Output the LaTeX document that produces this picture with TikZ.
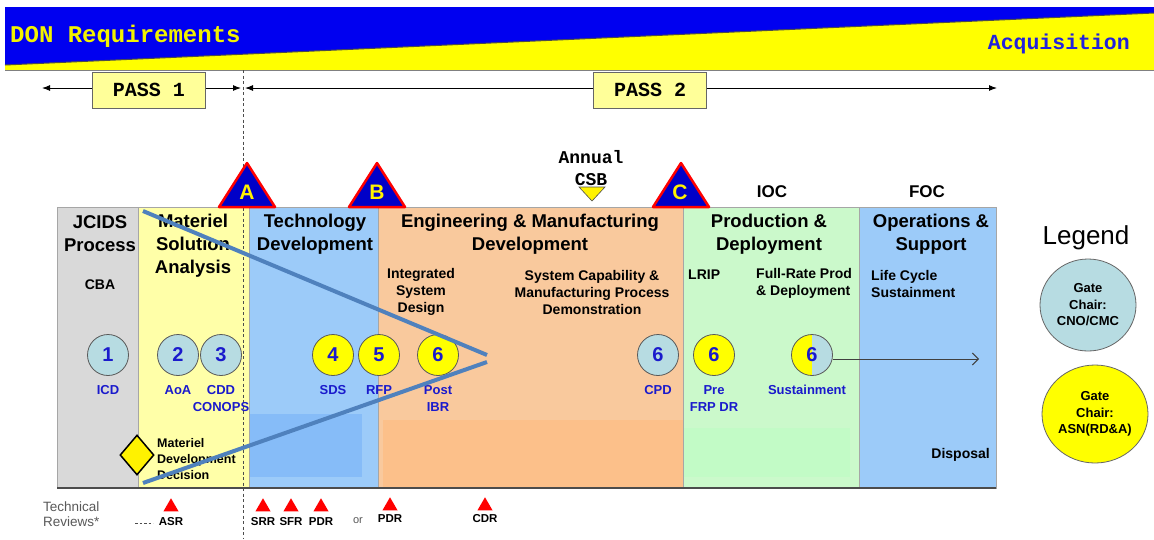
\documentclass[tikz,border=0pt]{standalone}
\usepackage{fontspec}
\setmainfont{Liberation Sans}
\newfontfamily\courfont{Liberation Mono}
\usetikzlibrary{shapes.geometric,arrows.meta}
\newcommand\myfs[2]{\fontsize{#1}{#2}\selectfont}
\definecolor{banblue}{HTML}{0000F0}
\definecolor{banyel}{HTML}{FFFF00}
\definecolor{donyel}{HTML}{F2F200}
\definecolor{acqblue}{HTML}{2222DD}
\definecolor{passfill}{HTML}{FFFF99}
\definecolor{jcgrey}{HTML}{D9D9D9}
\definecolor{msayel}{HTML}{FFFFA8}
\definecolor{tdblue}{HTML}{9CCBF9}
\definecolor{tdin}{HTML}{86BCF8}
\definecolor{emdor}{HTML}{F9C99D}
\definecolor{emdin}{HTML}{FCC08A}
\definecolor{pdgreen}{HTML}{CBF9CB}
\definecolor{pdin}{HTML}{C2FBC6}
\definecolor{osblue}{HTML}{9CCBF9}
\definecolor{gateblue}{HTML}{B7DCE2}
\definecolor{gateyel}{HTML}{FFFF00}
\definecolor{numblue}{HTML}{1A1ACC}
\definecolor{trblue}{HTML}{0000C8}
\definecolor{linblue}{HTML}{4F81BD}
\begin{document}
\begin{tikzpicture}[x=1pt,y=-1pt,
  phasebox/.style={draw=gray!70, line width=0.8pt},
  ptitle/.style={font=\bfseries\myfs{18.5}{23}, align=center, inner sep=0pt},
  subtxt/.style={font=\bfseries\myfs{14}{17}, inner sep=0pt},
  gcirc/.style={circle, draw=black!65, line width=0.8pt, minimum size=41pt, inner sep=0pt, font=\bfseries\myfs{20}{20}, text=numblue},
  gb/.style={gcirc, fill=gateblue},
  gy/.style={gcirc, fill=gateyel},
  glbl/.style={font=\bfseries\myfs{13}{17}, text=numblue, align=center, inner sep=0pt},
  passbox/.style={draw=gray!80!black, fill=passfill, line width=0.8pt, minimum width=113pt, minimum height=36pt, inner sep=0pt, font=\courfont\bfseries\myfs{20}{20}},
  passarrow/.style={line width=1pt, -{Latex[length=8pt,width=6pt]}},
  gatetri/.style={fill=trblue, draw=red, line width=2.5pt, line join=round},
  gatelet/.style={font=\bfseries\myfs{21}{21}, text=yellow, inner sep=0pt},
  revtri/.style={regular polygon, regular polygon sides=3, fill=red, minimum size=17.5pt, inner sep=0pt},
  revlbl/.style={font=\bfseries\myfs{11.5}{12}, inner sep=0pt},
  legcirc/.style={ellipse, draw=black!60, line width=0.8pt, inner sep=0pt, font=\bfseries\myfs{13}{16.5}, align=center},
  milestone/.style={font=\bfseries\myfs{17}{17}, inner sep=0pt}
]
\useasboundingbox (0,0) rectangle (1154,539);
\fill[white] (0,0) rectangle (1154,539);

% banner
\fill[banblue] (5,7) rectangle (1154,70);
\fill[banyel] (5,65) -- (1154,13) -- (1154,70) -- (5,70) -- cycle;
\draw[black!70, line width=1pt] (5,65) -- (1154,13);
\draw[gray, line width=1pt] (5,70) -- (1154,70);
\node[font=\courfont\bfseries\myfs{24}{24}, text=donyel, anchor=west, inner sep=0pt] (don) at (10,36) {DON Requirements};
\node[font=\courfont\bfseries\myfs{21.5}{22}, text=acqblue, anchor=east, inner sep=0pt] (acq) at (1130,44) {Acquisition};

% passes
\node[passbox] (p1) at (149,90) {PASS 1};
\node[passbox] (p2) at (650,90) {PASS 2};
\coordinate (p1l) at (42,88);
\coordinate (p1r) at (241,88);
\coordinate (p2l) at (245,88);
\coordinate (p2r) at (997,88);
\draw[passarrow] ([yshift=2pt]p1.west) -- (p1l);
\draw[passarrow] ([yshift=2pt]p1.east) -- (p1r);
\draw[passarrow] ([yshift=2pt]p2.west) -- (p2l);
\draw[passarrow] ([yshift=2pt]p2.east) -- (p2r);

% phase boxes
\path[phasebox, fill=jcgrey] (57,207) rectangle (138,488);
\path[phasebox, fill=msayel] (138,207) rectangle (249,488);
\path[phasebox, fill=tdblue] (249,207) rectangle (378,488);
\fill[tdin] (250,414) rectangle (362,477);
\path[phasebox, fill=emdor] (378,207) rectangle (683,488);
\fill[emdin] (383,420) rectangle (683,487);
\path[phasebox, fill=pdgreen] (683,207) rectangle (859,488);
\fill[pdin] (684,428) rectangle (850,477);
\path[phasebox, fill=osblue] (859,207) rectangle (996,488);
\draw[gray!60!black, line width=1.5pt] (57,488) -- (996,488);

% dashed divider
\coordinate (dtop) at (243,70);
\coordinate (dbot) at (243,539);
\draw[black!70, line width=1pt, dash pattern=on 3pt off 2.5pt] (dtop) -- (dbot);

% gate triangles
\draw[gatetri] (219,207) -- (247,163) -- (275,207) -- cycle;
\node[gatelet] (ga) at (247,192) {A};
\draw[gatetri] (349,207) -- (377,163) -- (405,207) -- cycle;
\node[gatelet] (gbb) at (377,192) {B};
\draw[gatetri] (653,207) -- (681,163) -- (709,207) -- cycle;
\node[gatelet] (gc) at (680,192) {C};

% Annual CSB
\node[font=\courfont\bfseries\myfs{18}{22}, align=center, inner sep=0pt] (csb) at (591,168) {Annual\\CSB};
\draw[fill=yellow, draw=black!70, line width=0.6pt] (579,187) -- (605,187) -- (592,201) -- cycle;

% milestones
\node[milestone] (ioc) at (772,192) {IOC};
\node[milestone] (foc) at (927,192) {FOC};

% titles
\node[ptitle] (t1) at (100,234) {JCIDS\\Process};
\node[ptitle] (t2) at (193,246) {Materiel\\Solution\\Analysis};
\node[ptitle] (t3) at (315,234) {Technology\\Development};
\node[ptitle] (t4) at (530,234) {Engineering \& Manufacturing\\Development};
\node[ptitle] (t5) at (769,234) {Production \&\\Deployment};
\node[ptitle] (t6) at (931,234) {Operations \&\\Support};

% sub texts
\node[subtxt] (s1) at (100,285) {CBA};
\node[subtxt, align=center] (s2) at (421,292) {Integrated\\System\\Design};
\node[subtxt, align=center] (s3) at (592,292) {System Capability \&\\Manufacturing Process\\Demonstration};
\node[subtxt, anchor=west] (s4) at (688,275) {LRIP};
\node[subtxt, anchor=west, align=left] (s5) at (756,283.5) {Full-Rate Prod\\\& Deployment};
\node[subtxt, anchor=west, align=left] (s6t) at (871,283.5) {Life Cycle\\Sustainment};
\node[subtxt, anchor=east] (s7) at (990,455) {Disposal};

% gate circles
\node[gb] (c1) at (108,355) {1};
\node[gb] (c2) at (178,355) {2};
\node[gb] (c3) at (221,355) {3};
\node[gy] (c4) at (333,355) {4};
\node[gy] (c5) at (379,355) {5};
\node[gy] (c6a) at (438,355) {6};
\node[gb] (c6b) at (658,355) {6};
\node[gy] (c6c) at (714,355) {6};
\begin{scope}
\clip (790,330) rectangle (812,380);
\fill[gateyel] (812,355) circle[radius=20.5];
\end{scope}
\begin{scope}
\clip (812,330) rectangle (834,380);
\fill[gateblue] (812,355) circle[radius=20.5];
\end{scope}
\node[gcirc] (c6d) at (812,355) {6};
\coordinate (sarr) at (979,359);
\draw[black!75, line width=1pt, -{Straight Barb[length=6pt,width=12pt]}] ([yshift=-4pt]c6d.east) -- (sarr);

\node[glbl] (l1) at (108,390) {ICD};
\node[glbl] (l2) at (178,390) {AoA};
\node[glbl] (l3) at (221,398.5) {CDD\\CONOPS};
\node[glbl] (l4) at (333,390) {SDS};
\node[glbl] (l5) at (379,390) {RFP};
\node[glbl] (l6) at (438,398.5) {Post\\IBR};
\node[glbl] (l7) at (658,390) {CPD};
\node[glbl] (l8) at (714,398.5) {Pre\\FRP DR};
\node[glbl] (l9) at (807,390) {Sustainment};

% materiel development decision
\node[diamond, draw=black, line width=1.5pt, fill=yellow, minimum width=34pt, minimum height=40pt, inner sep=0pt] (mdd) at (137,455) {};
\node[font=\bfseries\myfs{12.5}{16}, anchor=west, align=left, inner sep=0pt] (mddt) at (157,459) {Materiel\\Development\\Decision};

% legend
\node[font=\myfs{26}{26}, inner sep=0pt] (leg) at (1086,238) {Legend};
\node[legcirc, fill=gateblue, minimum width=96pt, minimum height=92pt] (lg1) at (1088,305) {Gate\\Chair:\\CNO/CMC};
\node[legcirc, fill=gateyel, minimum width=106pt, minimum height=98pt] (lg2) at (1095,414) {Gate\\Chair:\\ASN(RD\&A)};

% technical reviews
\node[font=\myfs{13.5}{15}, text=black!65, anchor=west, align=left, inner sep=0pt] (tr) at (43,514.5) {Technical\\Reviews*};
\coordinate (dsa) at (135,523);
\coordinate (dsb) at (153,523);
\draw[black!70, line width=0.8pt, dash pattern=on 2.5pt off 2pt] (dsa) -- (dsb);
\node[revtri] (r1) at (171,507) {};
\node[revlbl] (r1l) at (171,522) {ASR};
\node[revtri] (r2) at (263,507) {};
\node[revlbl] (r2l) at (263,522) {SRR};
\node[revtri] (r3) at (291,507) {};
\node[revlbl] (r3l) at (291,522) {SFR};
\node[revtri] (r4) at (321,507) {};
\node[revlbl] (r4l) at (321,522) {PDR};
\node[font=\myfs{11}{12}, text=black!65, inner sep=0pt] (ror) at (358,521) {or};
\node[revtri] (r5) at (390,506) {};
\node[revlbl] (r5l) at (390,519) {PDR};
\node[revtri] (r6) at (485,506) {};
\node[revlbl] (r6l) at (485,519) {CDR};

% blue funnel lines
\coordinate (bl1) at (143,211);
\coordinate (bv1) at (487,355);
\coordinate (bv2) at (487,362);
\coordinate (bl2) at (143,483);
\draw[linblue, line width=4pt] (bl1) -- (bv1);
\draw[linblue, line width=4pt] (bv2) -- (bl2);
\end{tikzpicture}
\end{document}
